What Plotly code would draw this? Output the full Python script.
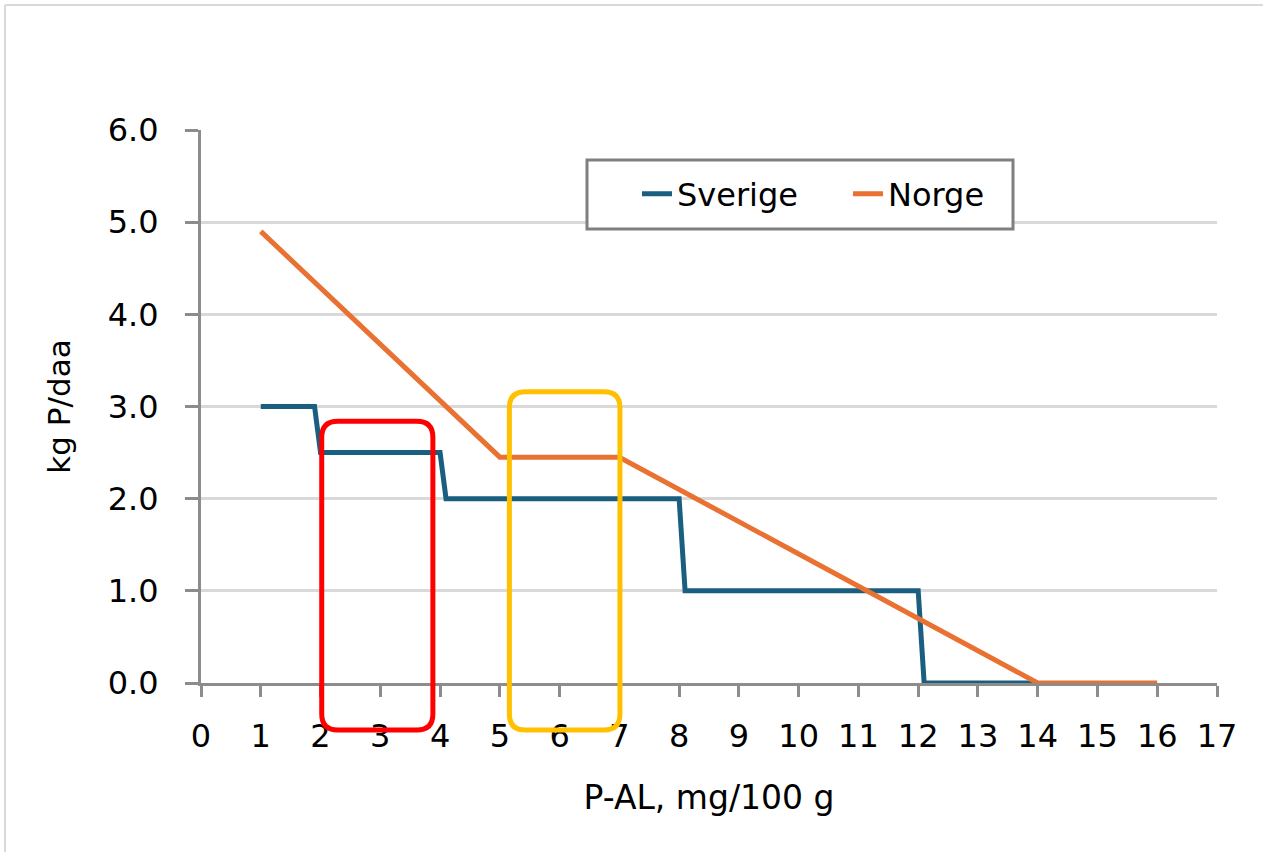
import plotly.graph_objects as go

# Data
sverige_x = [1, 1.9, 2.0, 4.0, 4.1, 8.0, 8.1, 12.0, 12.1, 14.0]
sverige_y = [3.0, 3.0, 2.5, 2.5, 2.0, 2.0, 1.0, 1.0, 0.0, 0.0]
norge_x = [1, 5, 7, 14, 16]
norge_y = [4.9, 2.45, 2.45, 0.0, 0.0]
x_ticks = list(range(0, 18))
y_ticks = [0, 1, 2, 3, 4, 5, 6]
y_tick_labels = ["0.0", "1.0", "2.0", "3.0", "4.0", "5.0", "6.0"]

# Highlight boxes (data units: x0, x1, y0, y1)
red_box = [2.02, 3.88, -0.51, 2.84]
yellow_box = [5.16, 7.01, -0.51, 3.16]

X_MAX, Y_MAX = 17, 6
ML, MT, PLOT_W, PLOT_H = 201, 130, 1016, 553


def px_x(p):
    return (p - ML) / PLOT_W


def px_y(p):
    return (MT + PLOT_H - p) / PLOT_H


fig = go.Figure()
fig.add_trace(go.Scatter(x=sverige_x, y=sverige_y, mode="lines", name="Sverige",
                         line=dict(color="#1a5e80", width=5)))
fig.add_trace(go.Scatter(x=norge_x, y=norge_y, mode="lines", name="Norge",
                         line=dict(color="#e97132", width=5)))


def rounded_path(box, r_px=16):
    x0, x1, y0, y1 = box
    x0, x1 = x0 / X_MAX, x1 / X_MAX
    y0, y1 = y0 / Y_MAX, y1 / Y_MAX
    rx = r_px / PLOT_W
    ry = r_px / PLOT_H
    return (f"M {x0+rx},{y1} L {x1-rx},{y1} Q {x1},{y1} {x1},{y1-ry} "
            f"L {x1},{y0+ry} Q {x1},{y0} {x1-rx},{y0} "
            f"L {x0+rx},{y0} Q {x0},{y0} {x0},{y0+ry} "
            f"L {x0},{y1-ry} Q {x0},{y1} {x0+rx},{y1} Z")


shapes = [
    dict(type="path", xref="paper", yref="paper", path=rounded_path(red_box),
         line=dict(color="#ff0000", width=5), fillcolor="rgba(0,0,0,0)", layer="above"),
    dict(type="path", xref="paper", yref="paper", path=rounded_path(yellow_box),
         line=dict(color="#ffc000", width=5), fillcolor="rgba(0,0,0,0)", layer="above"),
    # legend frame
    dict(type="rect", xref="paper", yref="paper", x0=px_x(587), x1=px_x(1013),
         y0=px_y(229), y1=px_y(160), line=dict(color="#7f7f7f", width=3),
         fillcolor="white", layer="above"),
    # outer chart border (top and left)
    dict(type="line", xref="paper", yref="paper", x0=px_x(5), x1=px_x(1300),
         y0=px_y(5), y1=px_y(5), line=dict(color="#d9d9d9", width=2)),
    dict(type="line", xref="paper", yref="paper", x0=px_x(5), x1=px_x(5),
         y0=px_y(5), y1=px_y(900), line=dict(color="#d9d9d9", width=2)),
]

FONT = "DejaVu Sans, Arial, sans-serif"

fig.update_layout(
    width=1263, height=852,
    margin=dict(l=ML, r=1263 - ML - PLOT_W, t=MT, b=852 - MT - PLOT_H),
    paper_bgcolor="white", plot_bgcolor="white",
    font=dict(family=FONT, color="#000000", size=30),
    showlegend=True,
    legend=dict(orientation="h", x=px_x(637), y=px_y(194), xanchor="left", yanchor="middle",
                borderwidth=0, bgcolor="rgba(0,0,0,0)",
                font=dict(size=32, family=FONT), itemwidth=30,
                entrywidth=166, entrywidthmode="pixels"),
    shapes=shapes,
    xaxis=dict(range=[0, X_MAX], tickmode="array", tickvals=x_ticks,
               ticktext=[str(v) for v in x_ticks],
               showgrid=False, zeroline=False,
               showline=True, linecolor="#8c8c8c", linewidth=3,
               ticks="outside", ticklen=11, tickwidth=3, tickcolor="#8c8c8c",
               tickfont=dict(size=32), ticklabelstandoff=12,
               title=dict(text="P-AL, mg/100 g", font=dict(size=33), standoff=32)),
    yaxis=dict(range=[0, Y_MAX], tickmode="array", tickvals=y_ticks,
               ticktext=y_tick_labels,
               showgrid=True, gridcolor="#d9d9d9", gridwidth=3, zeroline=False,
               showline=True, linecolor="#8c8c8c", linewidth=3,
               ticks="outside", ticklen=13, tickwidth=3, tickcolor="#8c8c8c",
               tickfont=dict(size=32), ticklabelstandoff=20,
               title=dict(text="kg P/daa", font=dict(size=31), standoff=28)),
)

fig.write_html("out.html")
